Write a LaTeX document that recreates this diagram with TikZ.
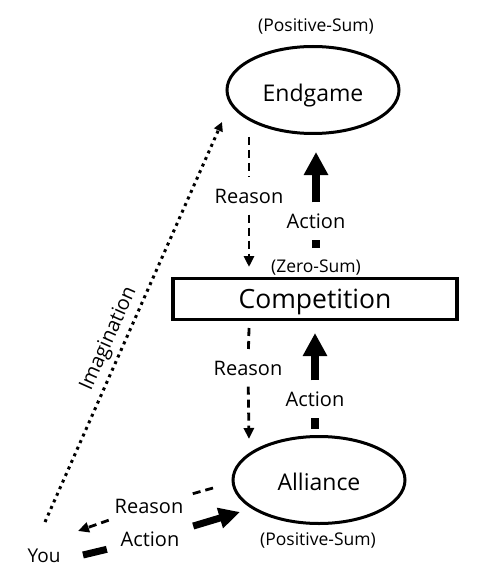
\documentclass[tikz,border=0pt]{standalone}
\usepackage{fontspec}
\setmainfont{Open Sans}
\usetikzlibrary{arrows.meta,shapes.geometric,calc}
\begin{document}
\begin{tikzpicture}[x=1pt,y=-1pt,
  ell/.style={draw,ellipse,line width=3pt,minimum width=172pt,minimum height=87pt,inner sep=0pt,font=\fontsize{23}{28}\selectfont,text depth=0pt},
  box/.style={draw,rectangle,line width=3.5pt,minimum width=284pt,minimum height=41pt,inner sep=0pt,font=\fontsize{26.5}{32}\selectfont,text height=19pt,text depth=0pt},
  small/.style={font=\fontsize{17.5}{21}\selectfont,inner sep=0pt,text height=12.5pt,text depth=0pt},
  lab/.style={font=\fontsize{20}{24}\selectfont,inner sep=0pt,text height=14.3pt,text depth=0pt},
  vgap/.style={lab,minimum height=37pt,inner xsep=2pt},
  hgap/.style={lab,minimum height=28pt,minimum width=86pt},
  reasonarrow/.style={line width=2.8pt,dash pattern=on 8pt off 5pt},
  reasontip/.style={reasonarrow,-{Triangle[length=11pt,width=10pt]}},
  actionline/.style={line width=7.5pt},
  actiontip/.style={actionline,-{Triangle[length=23pt,width=23pt]}},
  imag/.style={line width=3pt,dash pattern=on 3pt off 4.2pt,-{Triangle[length=9pt,width=9pt]}}
]
\useasboundingbox (0,0) rectangle (478,580);

% main nodes
\node[small] (ps1) at (316,25) {(Positive-Sum)};
\node[ell,text height=23.2pt] (E) at (313,90) {Endgame};
\node[small] (zs) at (316,266) {(Zero-Sum)};
\node[box] (C) at (315,299) {Competition};
\node[ell,text height=20.4pt] (A) at (319,480) {Alliance};
\node[small] (ps2) at (318,539) {(Positive-Sum)};
\node[lab,font=\fontsize{19}{23}\selectfont,text height=13.6pt] (You) at (44,556) {You};

% label nodes
\node[vgap] (r1) at (249,196) {Reason};
\node[vgap] (a1) at (316,221) {Action};
\node[vgap] (r2) at (248,368) {Reason};
\node[vgap] (a2) at (315,399) {Action};
\node[hgap] (r3) at (149,506) {Reason};
\node[hgap] (a3) at (150,539) {Action};

% connector end points
\coordinate (r1s) at (249,137);
\coordinate (r1e) at (249,267);
\coordinate (a1s) at (316,248);
\coordinate (a1e) at (316,152);
\coordinate (r2s) at (249,328);
\coordinate (r2e) at (249,439);
\coordinate (a2s) at (315,429);
\coordinate (a2e) at (315,333);
\coordinate (r3s) at (213,488);
\coordinate (r3e) at (78,531);
\coordinate (a3s) at (83,555);
\coordinate (a3e) at (240,512);
\coordinate (is) at (45,522);
\coordinate (ie) at (222,122);

% Endgame -> Competition (Reason), Competition -> Endgame (Action)
\draw[reasonarrow] (r1s) -- (r1);
\draw[reasontip] (r1) -- (r1e);
\draw[actionline] (a1s) -- (a1);
\draw[actiontip] (a1) -- (a1e);

% Competition -> Alliance (Reason), Alliance -> Competition (Action)
\draw[reasonarrow] (r2s) -- (r2);
\draw[reasontip] (r2) -- (r2e);
\draw[actionline] (a2s) -- (a2);
\draw[actiontip] (a2) -- (a2e);

% Alliance -> You (Reason), You -> Alliance (Action)
\draw[reasonarrow] (r3s) -- (r3);
\draw[reasontip] (r3) -- (r3e);
\draw[line width=7pt] (a3s) -- (a3);
\draw[line width=7pt,-{Triangle[length=21pt,width=20pt]}] (a3) -- (a3e);

% Imagination
\draw[imag] (is) -- (ie);
\node[lab,rotate=66] (im) at (107,338) {Imagination};
\end{tikzpicture}
\end{document}
